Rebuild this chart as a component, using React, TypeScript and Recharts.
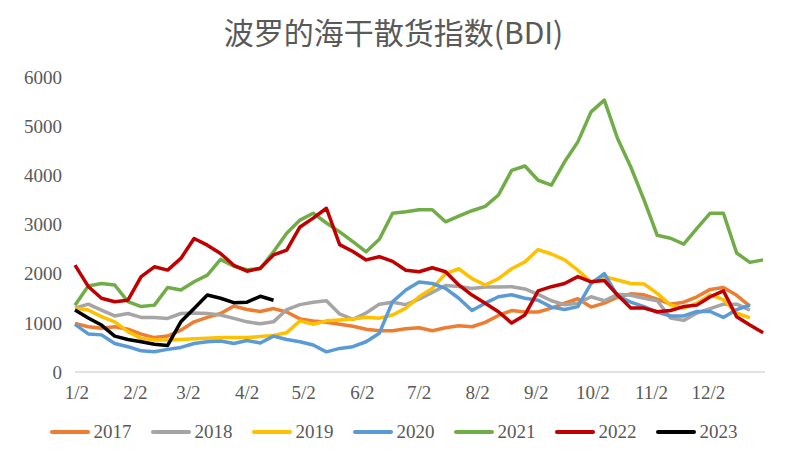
import { LineChart, Line, XAxis, YAxis, Legend } from 'recharts';

// days since Jan 1, sampled weekly
const days = [0, 7, 14, 21, 28, 35, 42, 49, 56, 63, 70, 77, 84, 91, 98, 105, 112, 119, 126, 133, 140, 147, 154, 161, 168, 175, 182, 189, 196, 203, 210, 217, 224, 231, 238, 245, 252, 259, 266, 273, 280, 287, 294, 301, 308, 315, 322, 329, 336, 343, 350, 357, 364];

const bdi2017 = [990, 920, 890, 920, 870, 770, 700, 730, 850, 1020, 1110, 1190, 1340, 1270, 1230, 1290, 1220, 1080, 1040, 1010, 970, 930, 870, 840, 840, 880, 900, 840, 900, 940, 920, 1010, 1150, 1250, 1220, 1220, 1300, 1400, 1490, 1320, 1400, 1520, 1590, 1570, 1480, 1380, 1420, 1530, 1680, 1720, 1560, 1340, null];
const bdi2018 = [1300, 1380, 1260, 1140, 1190, 1110, 1110, 1090, 1190, 1200, 1190, 1160, 1090, 1020, 980, 1020, 1270, 1370, 1420, 1450, 1180, 1070, 1200, 1380, 1420, 1370, 1480, 1620, 1760, 1740, 1700, 1730, 1730, 1735, 1690, 1580, 1450, 1370, 1400, 1530, 1450, 1580, 1560, 1500, 1450, 1100, 1050, 1200, 1290, 1380, 1380, 1260, null];
const bdi2019 = [1300, 1260, 1125, 1020, 820, 685, 650, 650, 660, 675, 685, 700, 700, 700, 720, 745, 800, 1040, 970, 1040, 1060, 1080, 1115, 1095, 1160, 1300, 1530, 1700, 2000, 2100, 1900, 1770, 1900, 2100, 2240, 2490, 2400, 2280, 2070, 1830, 1940, 1870, 1800, 1790, 1600, 1360, 1300, 1400, 1570, 1470, 1200, 1100, null];
const bdi2020 = [970, 775, 755, 580, 515, 430, 410, 460, 500, 580, 615, 630, 580, 640, 590, 730, 660, 615, 550, 410, 480, 515, 615, 790, 1430, 1667, 1830, 1800, 1700, 1500, 1250, 1400, 1530, 1570, 1500, 1460, 1320, 1270, 1330, 1800, 2000, 1550, 1420, 1330, 1220, 1140, 1140, 1230, 1230, 1110, 1270, 1360, null];
const bdi2021 = [1360, 1750, 1800, 1770, 1430, 1330, 1360, 1720, 1667, 1835, 1970, 2290, 2150, 2080, 2100, 2445, 2820, 3090, 3230, 3030, 2850, 2650, 2445, 2700, 3230, 3260, 3300, 3300, 3055, 3170, 3280, 3370, 3600, 4100, 4190, 3900, 3800, 4275, 4680, 5290, 5530, 4750, 4170, 3500, 2780, 2720, 2600, 2920, 3230, 3230, 2420, 2230, 2280];
const bdi2022 = [2175, 1740, 1500, 1430, 1460, 1940, 2140, 2073, 2310, 2715, 2580, 2410, 2170, 2050, 2110, 2380, 2480, 2950, 3130, 3330, 2590, 2450, 2280, 2345, 2250, 2070, 2040, 2120, 2040, 1770, 1565, 1400, 1225, 995, 1160, 1650, 1735, 1800, 1940, 1835, 1860, 1565, 1300, 1300, 1225, 1250, 1330, 1360, 1530, 1650, 1125, 955, 800];
const bdi2023 = [1260, 1100, 955, 730, 660, 615, 565, 540, 1020, 1290, 1565, 1500, 1410, 1420, 1540, 1460];

const tickDays = [1, 32, 60, 91, 121, 152, 182, 213, 244, 274, 305, 335];
const tickLabels = ['1/2', '2/2', '3/2', '4/2', '5/2', '6/2', '7/2', '8/2', '9/2', '10/2', '11/2', '12/2'];
const yTicks = [0, 1000, 2000, 3000, 4000, 5000, 6000];

const series = [
  { key: '2017', values: bdi2017, color: '#ED7D31' },
  { key: '2018', values: bdi2018, color: '#A5A5A5' },
  { key: '2019', values: bdi2019, color: '#FFC000' },
  { key: '2020', values: bdi2020, color: '#5B9BD5' },
  { key: '2021', values: bdi2021, color: '#70AD47' },
  { key: '2022', values: bdi2022, color: '#C00000' },
  { key: '2023', values: bdi2023, color: '#000000' },
];

const data = days.map((day, i) => {
  const row: Record<string, number | null> = { day };
  series.forEach((s) => {
    row[s.key] = s.values[i] ?? null;
  });
  return row;
});

const font = '"Liberation Serif", "Noto Sans CJK SC", serif';
const textColor = '#595959';

function LegendRow() {
  return (
    <div style={{ display: 'flex', justifyContent: 'center', gap: 19, fontFamily: font, fontSize: 19, color: textColor }}>
      {series.map((s) => (
        <div key={s.key} style={{ display: 'flex', alignItems: 'center', gap: 4 }}>
          <span style={{ display: 'inline-block', width: 40, height: 4, borderRadius: 2, background: s.color }} />
          <span>{s.key}</span>
        </div>
      ))}
    </div>
  );
}

export default function App() {
  return (
    <div style={{ position: 'absolute', left: 0, top: 0, width: 787, height: 461, background: '#fff' }}>
      <div
        style={{
          position: 'absolute',
          top: 11,
          width: 787,
          textAlign: 'center',
          fontFamily: '"Noto Sans CJK SC", serif',
          fontSize: 30,
          color: textColor,
          lineHeight: '40px',
        }}
      >
        波罗的海干散货指数(BDI)
      </div>
      <LineChart width={787} height={461} data={data} margin={{ top: 77, right: 22, bottom: 59, left: 15 }}>
        <XAxis
          dataKey="day"
          type="number"
          domain={[0, 365]}
          ticks={tickDays}
          tickFormatter={(d: number) => tickLabels[tickDays.indexOf(d)]}
          axisLine={{ stroke: '#D9D9D9', strokeWidth: 1.5 }}
          tickLine={false}
          tickSize={0}
          tickMargin={14}
          height={30}
          tick={{ fill: textColor, fontSize: 19, fontFamily: font }}
        />
        <YAxis
          domain={[0, 6000]}
          ticks={yTicks}
          axisLine={false}
          tickLine={false}
          tickSize={0}
          tickMargin={13}
          width={60}
          tick={{ fill: textColor, fontSize: 19, fontFamily: font }}
        />
        <Legend
          verticalAlign="middle"
          wrapperStyle={{ top: 421, left: 0, width: 787 }}
          content={() => <LegendRow />}
        />
        {series.map((s) => (
          <Line
            key={s.key}
            type="linear"
            dataKey={s.key}
            stroke={s.color}
            strokeWidth={3.5}
            strokeLinejoin="round"
            dot={false}
            activeDot={false}
            connectNulls={false}
            isAnimationActive={false}
          />
        ))}
      </LineChart>
    </div>
  );
}
